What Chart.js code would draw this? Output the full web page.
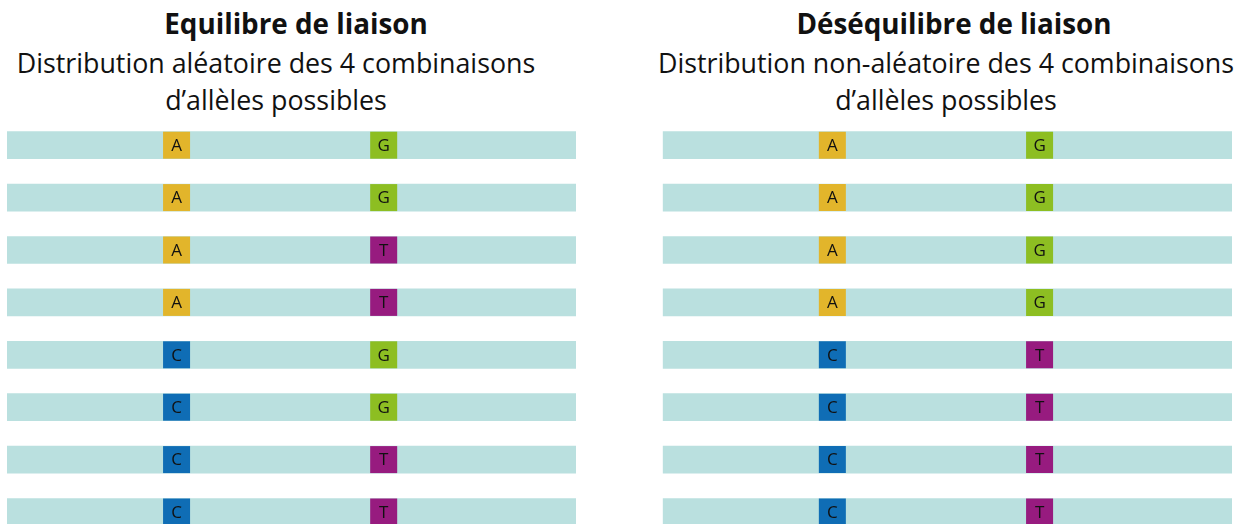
<!DOCTYPE html>
<html>
<head>
<meta charset="utf-8">
<script src="https://cdn.jsdelivr.net/npm/chart.js@4.4.1/dist/chart.umd.min.js"></script>
<style>
    html, body { margin: 0; padding: 0; background: #fff; overflow: hidden; }
    body { width: 1240px; height: 524px; position: relative; font-family: "Open Sans", sans-serif; color: #111; }
    .title { position: absolute; top: 8px; width: 600px; margin: 0; text-align: center; font-size: 27.8px; line-height: 30px; font-weight: 700; white-space: nowrap; }
    .sub { position: absolute; top: 45px; width: 700px; margin: 0; text-align: center; font-size: 26.8px; line-height: 36.5px; white-space: nowrap; }
    .panel { position: absolute; top: 119px; width: 620px; height: 420px; }
</style>
</head>
<body>
<h1 class="title" style="left: -4px;">Equilibre de liaison</h1>
<p class="sub" style="left: -74px;">Distribution aléatoire des 4 combinaisons<br>d’allèles possibles</p>
<h1 class="title" style="left: 654px;">Déséquilibre de liaison</h1>
<p class="sub" style="left: 596px;">Distribution non-aléatoire des 4 combinaisons<br>d’allèles possibles</p>
<div class="panel" style="left: 0;"><canvas id="equilibreChart"></canvas></div>
<div class="panel" style="left: 620px;"><canvas id="desequilibreChart"></canvas></div>

<script>
// Chromosomes (rows) and the two loci along them
const chromosomes = ['1', '2', '3', '4', '5', '6', '7', '8'];
const locusPositions = [29.8, 66.2];   // locus 1 and locus 2 on a 0-100 chromosome

// Equilibre de liaison : random combinations
const equilibreLocus1 = ['A', 'A', 'A', 'A', 'C', 'C', 'C', 'C'];
const equilibreLocus2 = ['G', 'G', 'T', 'T', 'G', 'G', 'T', 'T'];

// Déséquilibre de liaison : non-random combinations
const desequilibreLocus1 = ['A', 'A', 'A', 'A', 'C', 'C', 'C', 'C'];
const desequilibreLocus2 = ['G', 'G', 'G', 'G', 'T', 'T', 'T', 'T'];

const alleleColors = {A: '#e2b52b', C: '#0f6db5', G: '#8dbe22', T: '#971b7f'};
const chromosomeColor = '#bae0df';

// writes the allele letter on each marker
const alleleLetters = {
    id: 'alleleLetters',
    afterDatasetsDraw(chart) {
        const ctx = chart.ctx;
        ctx.save();
        ctx.font = '17px "Open Sans", sans-serif';
        ctx.fillStyle = '#111';
        ctx.textAlign = 'center';
        ctx.textBaseline = 'middle';
        chart.data.datasets.forEach((ds, i) => {
            if (!ds.alleles) return;
            chart.getDatasetMeta(i).data.forEach((pt, j) => {
                ctx.fillText(ds.alleles[j], pt.x, pt.y + 1);
            });
        });
        ctx.restore();
    }
};

function locusDataset(alleles, position) {
    return {
        type: 'line',
        alleles: alleles,
        data: alleles.map((a, i) => ({x: position, y: chromosomes[i]})),
        showLine: false,
        order: 1,
        pointStyle: 'rect',
        pointRadius: 19.1,
        pointHoverRadius: 19.1,
        pointBorderWidth: 0,
        pointBackgroundColor: alleles.map(a => alleleColors[a]),
    };
}

function makeChart(canvasId, locus1, locus2, padding) {
    const ctx = document.getElementById(canvasId).getContext('2d');
    return new Chart(ctx, {
        type: 'bar',
        data: {
            labels: chromosomes,
            datasets: [
                {
                    label: 'Chromosome',
                    data: chromosomes.map(() => [0, 100]),
                    backgroundColor: chromosomeColor,
                    barThickness: 27,
                    order: 2,
                },
                locusDataset(locus1, locusPositions[0]),
                locusDataset(locus2, locusPositions[1]),
            ]
        },
        options: {
            indexAxis: 'y',
            responsive: true,
            maintainAspectRatio: false,
            animation: false,
            events: [],
            layout: {autoPadding: false, padding: padding},
            plugins: {
                legend: {display: false},
                title: {display: false},
                tooltip: {enabled: false},
            },
            scales: {
                x: {type: 'linear', min: 0, max: 100, display: false},
                y: {type: 'category', display: false, offset: true},
            }
        },
        plugins: [alleleLetters]
    });
}

makeChart('equilibreChart', equilibreLocus1, equilibreLocus2, {left: 7, right: 44, top: 0, bottom: 0.8});
makeChart('desequilibreChart', desequilibreLocus1, desequilibreLocus2, {left: 42.7, right: 8, top: 0, bottom: 0.8});
</script>
</body>
</html>
